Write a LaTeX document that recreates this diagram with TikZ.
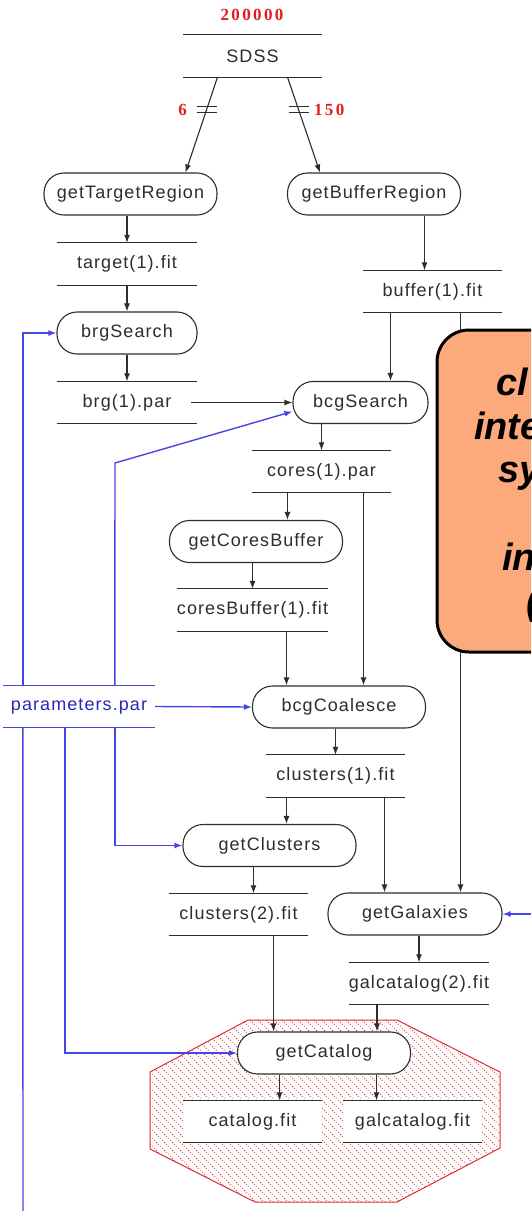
\documentclass[tikz,border=0pt]{standalone}
\usepackage{fontspec}
\setmainfont{Liberation Sans}
\newfontfamily\stepfont[LetterSpace=6]{Liberation Sans}
\newfontfamily\countfont[LetterSpace=14]{Liberation Serif}
\usetikzlibrary{arrows.meta, patterns}
\usepackage{xcolor}

\definecolor{inkgray}{RGB}{45,45,45}
\definecolor{parblue}{RGB}{70,70,230}
\definecolor{partext}{RGB}{40,40,185}
\definecolor{countred}{RGB}{225,30,30}
\definecolor{octred}{RGB}{220,45,45}
\definecolor{noteorange}{RGB}{252,170,124}

% rows of dots running down to the right
\pgfdeclarepatternformonly{dotrows}{\pgfpointorigin}{\pgfqpoint{8pt}{8pt}}{\pgfqpoint{8pt}{8pt}}{
  \pgfpathcircle{\pgfqpoint{1pt}{1pt}}{0.65pt}
  \pgfpathcircle{\pgfqpoint{3pt}{7pt}}{0.65pt}
  \pgfpathcircle{\pgfqpoint{5pt}{5pt}}{0.65pt}
  \pgfpathcircle{\pgfqpoint{7pt}{3pt}}{0.65pt}
  \pgfusepath{fill}
}

\tikzset{
  task/.style={draw=inkgray, line width=1.1pt, rounded corners=20pt, fill=white,
    minimum width=173pt, minimum height=42pt, inner sep=0pt, text=inkgray,
    font=\stepfont\fontsize{18}{21}\selectfont},
  store/.style={minimum width=139pt, minimum height=42pt, inner sep=0pt, text=inkgray,
    font=\stepfont\fontsize{18}{21}\selectfont},
  rule/.style={draw=inkgray, line width=1.1pt},
  flow/.style={draw=inkgray, line width=1.1pt, -{Latex[length=8pt,width=6pt]}},
  parline/.style={draw=parblue, line width=1.4pt},
  parflow/.style={parline, -{Latex[length=8pt,width=6pt]}},
  count/.style={text=countred, font=\countfont\bfseries\fontsize{17}{20}\selectfont},
  note/.style={anchor=base west, inner sep=0pt,
    font=\bfseries\itshape\fontsize{38}{44}\selectfont}
}

\begin{document}
\begin{tikzpicture}[x=1pt, y=-1pt]
\useasboundingbox (0,0) rectangle (531,1211);

% output region
\draw[octred, line width=1pt, pattern=dotrows, pattern color=octred]
  (248,1020) -- (397,1020) -- (500,1072) -- (500,1148) -- (397,1202)
  -- (255,1202) -- (150,1149) -- (150,1072) -- cycle;

% input
\node[count] (total) at (252,15) {200000};
\node[store] (sdss) at (252.5,56) {SDSS};

\node[task] (gettr) at (130.5,194) {getTargetRegion};
\node[task] (getbr) at (374,194) {getBufferRegion};
\node[store] (target) at (127,264) {target(1).fit};
\node[store] (buffer) at (432.5,291.5) {buffer(1).fit};
\node[task, minimum width=140pt] (brgs) at (127,333) {brgSearch};
\node[store] (brg) at (127,402.5) {brg(1).par};
\node[task, minimum width=135pt] (bcgs) at (360.5,402.5) {bcgSearch};
\node[store] (cores) at (321.5,471.5) {cores(1).par};
\node[task] (gcb) at (256,541.5) {getCoresBuffer};
\node[store] (coresbuf) at (252.5,610) {coresBuffer(1).fit};
\node[store, minimum width=152pt, text=partext] (params) at (79,706.5) {parameters.par};
\node[task] (bcgc) at (339,707) {bcgCoalesce};
\node[store] (clus1) at (335.5,776) {clusters(1).fit};
\node[task] (getcl) at (269.5,845.5) {getClusters};
\node[store] (clus2) at (238.5,914.5) {clusters(2).fit};
\node[task, minimum width=174pt] (getgal) at (415,914) {getGalaxies};
\node[store] (galcat2) at (419,983.5) {galcatalog(2).fit};
\node[task] (getcat) at (324,1053) {getCatalog};
\node[store, fill=white] (cat) at (252.5,1121.5) {catalog.fit};
\node[store, fill=white] (galcat) at (412.5,1121.5) {galcatalog.fit};

% file rules
\foreach \f in {sdss,target,buffer,brg,cores,coresbuf,clus1,clus2,galcat2,cat,galcat}
  \draw[rule] (\f.north west) -- (\f.north east) (\f.south west) -- (\f.south east);
\draw[parline] (params.north west) -- (params.north east) (params.south west) -- (params.south east);

% split of SDSS
\draw[flow] ([xshift=-35pt]sdss.south) -- coordinate[pos=0.34] (cutl) ([xshift=55pt]gettr.north);
\draw[flow] ([xshift=35pt]sdss.south) -- coordinate[pos=0.34] (cutr) ([xshift=-54pt]getbr.north);
\draw[rule] ([xshift=-10pt,yshift=3pt]cutl) -- ([xshift=10pt,yshift=3pt]cutl)
  ([xshift=-10pt,yshift=-3pt]cutl) -- ([xshift=10pt,yshift=-3pt]cutl);
\draw[rule] ([xshift=-10pt,yshift=3pt]cutr) -- ([xshift=10pt,yshift=3pt]cutr)
  ([xshift=-10pt,yshift=-3pt]cutr) -- ([xshift=10pt,yshift=-3pt]cutr);
\node[count] (nleft) at ([xshift=-24pt]cutl) {6};
\node[count, anchor=west] (nright) at ([xshift=12pt]cutr) {150};

% data flow
\draw[flow] (target.north |- gettr.south) -- (target.north);
\draw[flow] ([xshift=-8pt]buffer.north |- getbr.south) -- ([xshift=-8pt]buffer.north);
\draw[flow] (target.south) -- (brgs.north);
\draw[flow] (brgs.south) -- (brg.north);
\draw[flow] ([xshift=-6pt]brg.east) -- (bcgs.west);
\draw[flow] ([xshift=-42pt]buffer.south) -- ([xshift=-42pt]buffer.south |- bcgs.north);
\draw[flow] ([xshift=28pt]buffer.south) -- ([xshift=28pt]buffer.south |- getgal.north);
\draw[flow] (cores.north |- bcgs.south) -- (cores.north);
\draw[flow] ([xshift=-34pt]cores.south) -- ([xshift=-34pt]cores.south |- gcb.north);
\draw[flow] ([xshift=42pt]cores.south) -- ([xshift=42pt]cores.south |- bcgc.north);
\draw[flow] (coresbuf.north |- gcb.south) -- (coresbuf.north);
\draw[flow] ([xshift=34pt]coresbuf.south) -- ([xshift=34pt]coresbuf.south |- bcgc.north);
\draw[flow] (clus1.north |- bcgc.south) -- (clus1.north);
\draw[flow] ([xshift=-49pt]clus1.south) -- ([xshift=-49pt]clus1.south |- getcl.north);
\draw[flow] ([xshift=49pt]clus1.south) -- ([xshift=49pt]clus1.south |- getgal.north);
\draw[flow] ([xshift=15pt]clus2.north |- getcl.south) -- ([xshift=15pt]clus2.north);
\draw[flow] ([xshift=35pt]clus2.south) -- ([xshift=35pt]clus2.south |- getcat.north);
\draw[flow] (galcat2.north |- getgal.south) -- (galcat2.north);
\draw[flow] ([xshift=-42pt]galcat2.south) -- ([xshift=-42pt]galcat2.south |- getcat.north);
\draw[flow] ([xshift=27pt]cat.north |- getcat.south) -- ([xshift=27pt]cat.north);
\draw[flow] ([xshift=-36pt]galcat.north |- getcat.south) -- ([xshift=-36pt]galcat.north);

% parameters
\coordinate (kink) at (115,463);
\coordinate (parout) at (23,1211);
\coordinate (galin) at (531,914);
\draw[parflow] ([xshift=20pt]params.north west) |- (brgs.west);
\draw[parflow] ([xshift=112pt]params.north west) -- (kink) -- ([yshift=-9pt]bcgs.west);
\draw[parflow] (params.east) -- (bcgc.west);
\draw[parflow] ([xshift=112pt]params.south west) |- (getcl.west);
\draw[parflow] ([xshift=62pt]params.south west) |- (getcat.west);
\draw[parline] ([xshift=20pt]params.south west) -- (parout);
\draw[parflow] (galin) -- (getgal.east);

% callout
\begin{scope}
\clip (0,0) rectangle (531,1211);
\draw[line width=3pt, fill=noteorange, rounded corners=32pt] (437,330) rectangle (680,652);
\node[note] (notea) at (496,395) {cl};
\node[note] (noteb) at (474,439) {inte};
\node[note] (notec) at (498,482) {sy};
\node[note] (noted) at (502,570) {in};
\node[note] (notee) at (526,614) {(};
\end{scope}
\end{tikzpicture}
\end{document}
